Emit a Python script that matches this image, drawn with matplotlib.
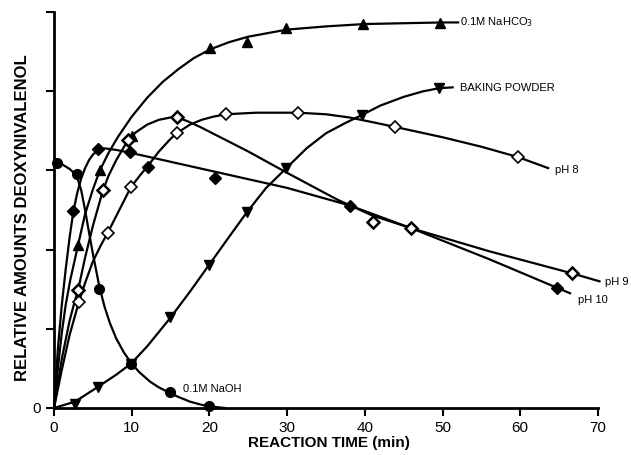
import matplotlib.pyplot as plt

# marker data (time in min, relative amount)
nahco3_t = [3.1, 5.9, 10.0, 20.1, 24.8, 29.9, 39.8, 49.7]
nahco3_y = [2.06, 3.00, 3.43, 4.55, 4.62, 4.80, 4.85, 4.86]
bp_t = [2.7, 5.7, 9.9, 14.9, 19.9, 24.8, 29.9, 39.6, 49.6]
bp_y = [0.05, 0.27, 0.56, 1.15, 1.80, 2.47, 3.03, 3.70, 4.04]
naoh_t = [0.4, 2.9, 5.8, 9.9, 14.9, 19.9]
naoh_y = [3.09, 2.95, 1.50, 0.56, 0.20, 0.02]
ph10_t = [2.5, 5.7, 9.8, 12.1, 20.7, 38.1, 64.7]
ph10_y = [2.49, 3.27, 3.23, 3.04, 2.90, 2.55, 1.52]
ph9_t = [3.1, 6.3, 9.5, 15.8, 41.0, 46.0, 66.7]
ph9_y = [1.49, 2.75, 3.38, 3.67, 2.35, 2.27, 1.70]
ph8_t = [3.2, 7.0, 9.9, 15.8, 22.1, 31.4, 43.9, 59.7]
ph8_y = [1.34, 2.21, 2.79, 3.47, 3.71, 3.73, 3.55, 3.17]

# hand drawn fitted curves
nahco3_ct = [0, 0.5, 1, 1.5, 2.1, 3.1, 4, 5, 5.9, 7, 8.2, 10, 12, 14, 16, 18, 20.1,
             22.5, 25, 30, 35, 40, 50, 52]
nahco3_cy = [0, 0.5, 0.95, 1.3, 1.62, 2.06, 2.45, 2.76, 3.0, 3.22, 3.42, 3.68, 3.92,
             4.12, 4.28, 4.42, 4.53, 4.62, 4.69, 4.78, 4.82, 4.85, 4.87, 4.87]
bp_ct = [0, 2.7, 5.7, 8, 9.9, 12, 14.9, 17.5, 19.9, 22.3, 24.8, 27.3, 29.9, 32.5,
         35, 37.5, 39.6, 42, 45, 47.5, 49.6, 51.3]
bp_cy = [0, 0.08, 0.27, 0.42, 0.56, 0.78, 1.13, 1.47, 1.80, 2.13, 2.47, 2.78, 3.03,
         3.28, 3.47, 3.6, 3.70, 3.82, 3.93, 4.0, 4.04, 4.05]
naoh_ct = [0, 1, 2, 2.9, 3.5, 4, 4.5, 5, 5.8, 6.5, 7.2, 8, 9, 10, 11, 12.4, 13.5,
           14.9, 16, 17.5, 19, 20.5, 22]
naoh_cy = [3.1, 3.08, 3.02, 2.94, 2.75, 2.5, 2.22, 1.95, 1.55, 1.28, 1.07, 0.88, 0.7,
           0.56, 0.45, 0.33, 0.26, 0.19, 0.14, 0.08, 0.04, 0.015, 0.0]
ph10_ct = [0, 0.5, 1, 1.5, 2, 2.5, 3, 3.5, 4, 4.5, 5, 5.7, 6.5, 8, 10, 20, 30, 38,
           46, 56, 64.7, 66.4]
ph10_cy = [0, 0.75, 1.3, 1.75, 2.15, 2.49, 2.72, 2.9, 3.03, 3.13, 3.2, 3.26, 3.28,
           3.26, 3.22, 3.0, 2.78, 2.56, 2.27, 1.88, 1.52, 1.45]
ph9_ct = [0, 1, 2, 2.7, 3.1, 4, 5, 6.3, 7, 8, 9.5, 10.5, 12, 13.5, 15, 15.8, 17,
          18.8, 25, 30, 36.5, 41, 46, 56, 66.7, 70.2]
ph9_cy = [0, 0.62, 1.1, 1.36, 1.49, 1.9, 2.3, 2.75, 2.93, 3.13, 3.38, 3.48, 3.58,
          3.64, 3.67, 3.67, 3.63, 3.55, 3.24, 2.97, 2.63, 2.43, 2.27, 1.98, 1.70, 1.60]
ph8_ct = [0, 1, 2, 3.2, 4, 5, 6, 7, 8.5, 9.9, 11, 12.1, 13.5, 15, 15.8, 17.5, 19,
          20.5, 22.1, 26, 31.4, 35, 38, 41, 43.9, 50, 55, 59.7, 63.6]
ph8_cy = [0, 0.48, 0.92, 1.34, 1.58, 1.85, 2.05, 2.23, 2.52, 2.79, 2.93, 3.06, 3.24,
          3.4, 3.47, 3.58, 3.64, 3.68, 3.71, 3.73, 3.73, 3.71, 3.67, 3.61, 3.55, 3.42,
          3.3, 3.17, 3.03]

plt.rcParams['font.family'] = ['Liberation Sans', 'DejaVu Sans']

fig = plt.figure(figsize=(6.31, 4.55), dpi=100)
ax = fig.add_axes([0.0856, 0.1033, 0.862, 0.870])

lw = 1.6
for ct, cy in [(nahco3_ct, nahco3_cy), (bp_ct, bp_cy), (naoh_ct, naoh_cy),
               (ph10_ct, ph10_cy), (ph9_ct, ph9_cy), (ph8_ct, ph8_cy)]:
    ax.plot(ct, cy, color='black', lw=lw, clip_on=False, solid_joinstyle='round')

ax.plot(nahco3_t, nahco3_y, ls='none', marker='^', ms=7, color='black', clip_on=False)
ax.plot(bp_t, bp_y, ls='none', marker='v', ms=7, color='black', clip_on=False)
ax.plot(naoh_t, naoh_y, ls='none', marker='o', ms=7, color='black', clip_on=False)
ax.plot(ph10_t, ph10_y, ls='none', marker='D', ms=6.5, color='black', clip_on=False)
ax.plot(ph9_t, ph9_y, ls='none', marker='D', ms=6.5, mfc='white', mec='black', mew=1.8, clip_on=False)
ax.plot(ph8_t, ph8_y, ls='none', marker='D', ms=6.5, mfc='white', mec='black', mew=1.2, clip_on=False)

lab = dict(fontsize=8, va='center', ha='left')
ax.text(52.3, 4.87, '0.1M NaHCO$_3$', **lab)
ax.text(52.3, 4.04, 'BAKING POWDER', **lab)
ax.text(16.6, 0.24, '0.1M NaOH', **lab)
ax.text(64.5, 3.0, 'pH 8', **lab)
ax.text(70.9, 1.59, 'pH 9', **lab)
ax.text(67.4, 1.37, 'pH 10', **lab)

ax.set_xlim(0, 70)
ax.set_ylim(0, 5)
ax.set_xticks(range(0, 71, 10))
ax.set_yticks(range(0, 6))
ax.set_yticklabels(['0', '', '', '', '', ''])
ax.tick_params(direction='out', length=6, width=1.5, labelsize=11)
for s in ['top', 'right']:
    ax.spines[s].set_visible(False)
for s in ['left', 'bottom']:
    ax.spines[s].set_linewidth(2)

ax.set_xlabel('REACTION TIME (min)', fontsize=11, fontweight='bold')
ax.set_ylabel('RELATIVE AMOUNTS DEOXYNIVALENOL', fontsize=12, fontweight='bold')
ax.yaxis.set_label_coords(-0.045, 0.48)
ax.xaxis.set_label_coords(0.505, -0.07)

fig.savefig('out.png', dpi=100)
